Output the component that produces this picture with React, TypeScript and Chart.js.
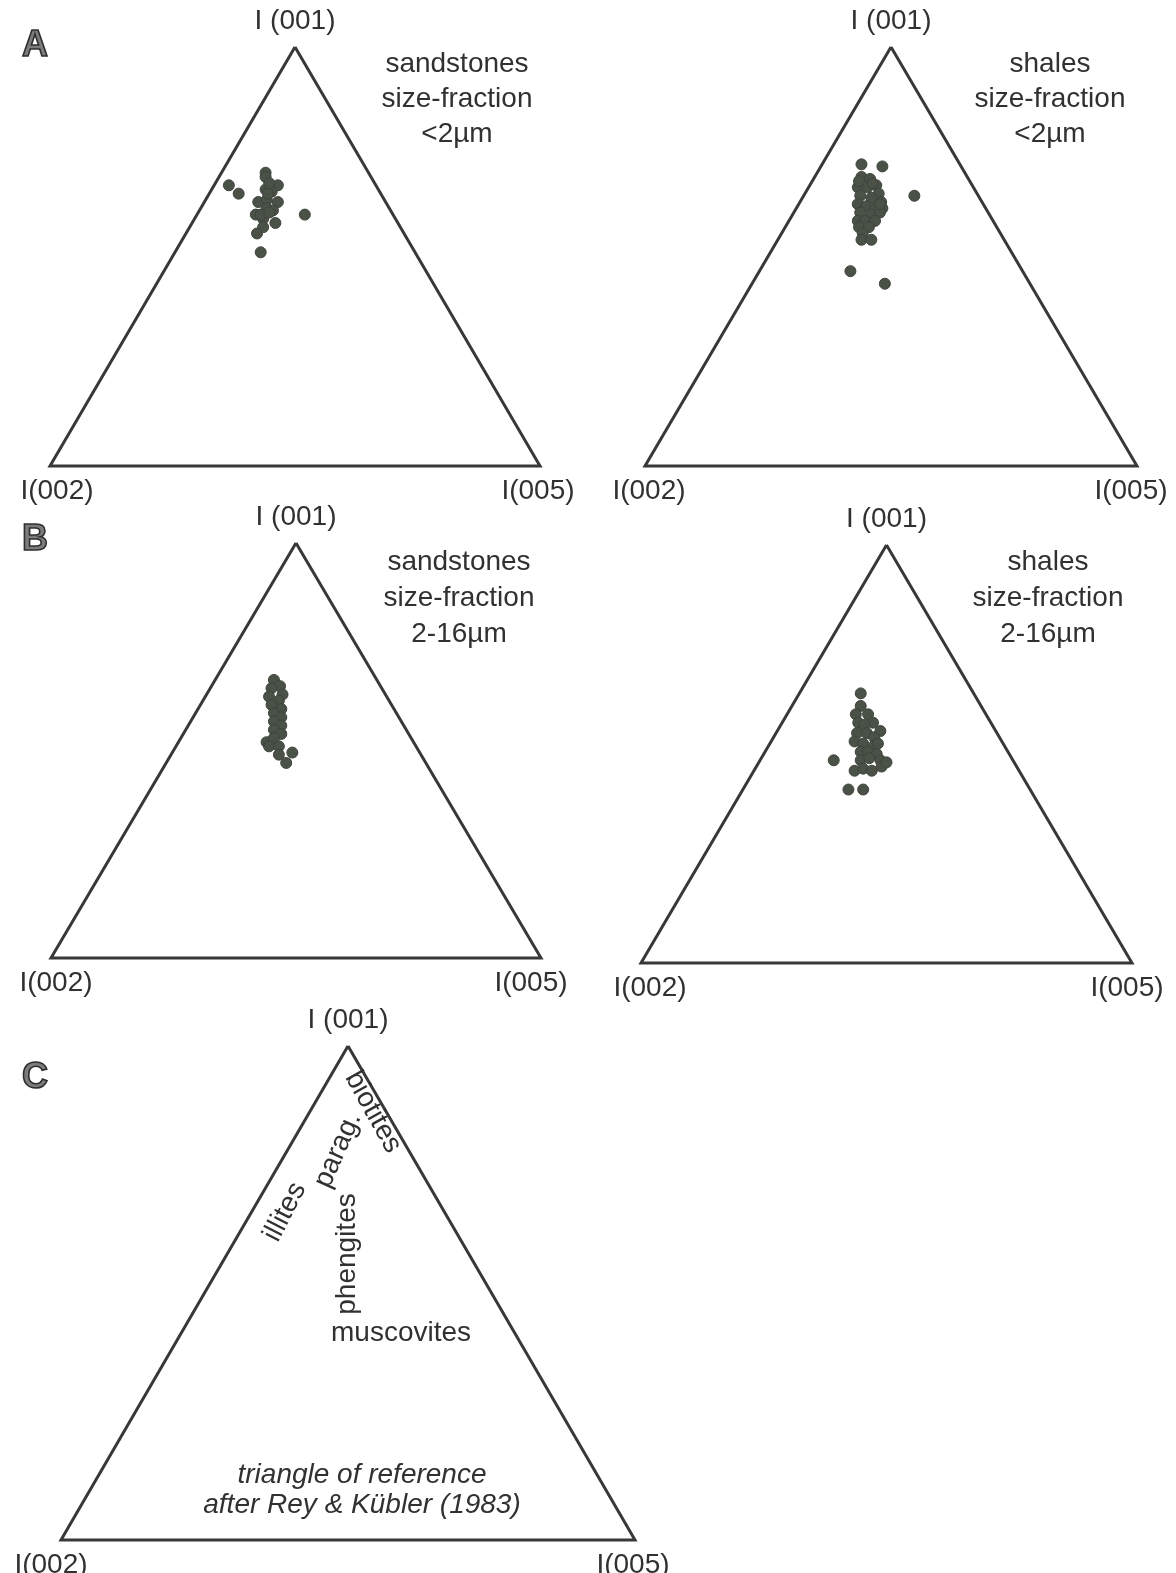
import React, { useEffect, useRef } from "react";
import { Chart, registerables } from "chart.js";

Chart.register(...registerables);

// Each sample is a ternary composition of peak intensities: [I(001), I(002), I(005)] in %.
type Triple = [number, number, number];

const PAGE_W = 1176;
const PAGE_H = 1573;

const vertexTop = "I (001)";
const vertexLeft = "I(002)";
const vertexRight = "I(005)";

// A: sandstones, <2 µm
const sandstonesFine: Triple[] = [
  [67, 30, 3], [65, 29, 6], [70, 21, 9], [69, 21.5, 9.5], [67, 20, 13],
  [66, 23, 11], [65.5, 22, 12.5], [63, 26, 11], [63.5, 24, 12.5], [63, 22, 15],
  [61.5, 25, 13.5], [61, 24, 15], [60, 28, 12], [59, 27, 14], [58, 25, 17],
  [57, 28, 15], [60, 18, 22], [55.5, 30, 14.5], [51, 31.5, 17.5], [65, 23, 12],
  [60, 27, 13], [60.5, 25, 14.5], [67.5, 21.5, 11],
];

// A: shales, <2 µm
const shalesFine: Triple[] = [
  [72, 20, 8], [71.5, 16, 12.5], [64.5, 13, 22.5], [69, 21.5, 9.5], [68.5, 20, 11.5],
  [67, 19.5, 13.5], [66.5, 23.5, 10], [66.5, 21.5, 12], [65, 20, 15], [64.5, 24, 11.5],
  [64, 22, 14], [63, 20.5, 16.5], [62.5, 25.5, 12], [62, 24, 14], [61.5, 22.5, 16],
  [61.5, 21, 17.5], [60.5, 26, 13.5], [60, 24, 16], [60.5, 22, 17.5], [58.5, 27.5, 14],
  [58.5, 26, 15.5], [58.5, 24, 17.5], [57, 28, 15], [57, 26, 17], [55.5, 28, 16.5],
  [68, 22.5, 9.5], [67.5, 20, 12.5], [62.5, 21, 16.5], [54, 29, 17], [54, 27, 19],
  [46.5, 35, 18.5], [43.5, 29.5, 27],
];

// B: sandstones, 2-16 µm
const sandstonesCoarse: Triple[] = [
  [67, 21, 12], [65.5, 20.5, 14], [65, 22.5, 12.5], [63.5, 21, 15.5], [63, 24, 13],
  [62, 22.5, 15.5], [61, 24.5, 14.5], [60, 23, 17], [59, 25, 16], [58, 24, 18],
  [57, 26, 17], [56, 25, 19], [55, 27, 18], [54, 26, 20], [52, 30, 18],
  [53, 28, 19], [51, 30, 19], [51, 28, 21], [49, 29, 22], [49.5, 26, 24.5],
  [47, 28.5, 24.5],
];

// B: shales, 2-16 µm
const shalesCoarse: Triple[] = [
  [64.5, 23, 12.5], [61.5, 24.5, 14], [59.5, 26.5, 14], [59.5, 24, 16.5], [57.5, 24, 18.5],
  [57.5, 27, 15.5], [57, 26, 17], [55.5, 23.5, 21], [55, 28.5, 16.5], [55, 26.5, 18.5],
  [54, 25.5, 20.5], [53, 30, 17], [52.5, 28.5, 19], [52, 26.5, 21.5], [52.5, 25.5, 22],
  [50.5, 30, 19.5], [50.5, 28.5, 21], [50, 27, 23], [48.5, 31, 20.5], [49, 29, 22],
  [48.5, 27, 24.5], [46, 33.5, 20.5], [46.5, 31.5, 22], [46, 30, 24], [47, 27.5, 25.5],
  [48, 26, 26], [48.5, 36.5, 15], [41.5, 37, 21.5], [41.5, 34, 24.5],
];

const titleSandFine = ["sandstones", "size-fraction", "<2µm"];
const titleShaleFine = ["shales", "size-fraction", "<2µm"];
const titleSandCoarse = ["sandstones", "size-fraction", "2-16µm"];
const titleShaleCoarse = ["shales", "size-fraction", "2-16µm"];

const referenceNote = ["triangle of reference", "after Rey & Kübler (1983)"];

// End-members of the ternary frame, closed back to the apex.
const frameVertices: Triple[] = [
  [100, 0, 0],
  [0, 100, 0],
  [0, 0, 100],
  [100, 0, 0],
];

const FONT = '"Liberation Sans", Arial, Helvetica, sans-serif';
const FONT_PX = 28;
const INK = "#303230";
const DOT = "#4a5147";

function toXY(t: Triple) {
  const s = t[0] + t[1] + t[2];
  return { x: (t[2] + t[0] / 2) / s, y: t[0] / s };
}

type Box = { left: number; right: number; top: number; base: number };

type Note = {
  text: string;
  x: number;
  y: number;
  rot?: number;
  italic?: boolean;
};

type PanelSpec = {
  box: Box;
  points: Triple[];
  letter?: { text: string; x: number; y: number };
  notes: Note[];
  leftLabelDx: number;
  rightLabelDx: number;
};

function titleNotes(lines: string[], cx: number, y0: number, gap: number): Note[] {
  return lines.map((text, i) => ({ text, x: cx, y: y0 + i * gap }));
}

const panels: PanelSpec[] = [
  {
    box: { left: 50, right: 540, top: 47, base: 466 },
    points: sandstonesFine,
    letter: { text: "A", x: 22, y: 46 },
    notes: titleNotes(titleSandFine, 457, 64, 35),
    leftLabelDx: 7,
    rightLabelDx: -2,
  },
  {
    box: { left: 645, right: 1137, top: 47, base: 466 },
    points: shalesFine,
    notes: titleNotes(titleShaleFine, 1050, 64, 35),
    leftLabelDx: 4,
    rightLabelDx: -6,
  },
  {
    box: { left: 51, right: 541, top: 543, base: 958 },
    points: sandstonesCoarse,
    letter: { text: "B", x: 22, y: 540 },
    notes: titleNotes(titleSandCoarse, 459, 562, 36),
    leftLabelDx: 5,
    rightLabelDx: -10,
  },
  {
    box: { left: 641, right: 1132, top: 545, base: 963 },
    points: shalesCoarse,
    notes: titleNotes(titleShaleCoarse, 1048, 562, 36),
    leftLabelDx: 9,
    rightLabelDx: -5,
  },
  {
    box: { left: 61, right: 635, top: 1046, base: 1540 },
    points: [],
    letter: { text: "C", x: 22, y: 1078 },
    notes: [
      { text: "biotites", x: 373, y: 1112, rot: 61 },
      { text: "parag.", x: 338, y: 1150, rot: -66 },
      { text: "phengites", x: 347, y: 1254, rot: -90 },
      { text: "illites", x: 285, y: 1212, rot: -63 },
      { text: "muscovites", x: 401, y: 1333 },
      { text: referenceNote[0], x: 362, y: 1475, italic: true },
      { text: referenceNote[1], x: 362, y: 1505, italic: true },
    ],
    leftLabelDx: -10,
    rightLabelDx: -2,
  },
];

function makeLabelPlugin(spec: PanelSpec) {
  return {
    id: "ternaryLabels",
    afterDatasetsDraw(chart: any) {
      const ctx: CanvasRenderingContext2D = chart.ctx;
      const xs = chart.scales.x;
      const ys = chart.scales.y;
      const apex = toXY(frameVertices[0]);
      const left = toXY(frameVertices[1]);
      const right = toXY(frameVertices[2]);
      ctx.save();
      ctx.fillStyle = INK;
      ctx.textAlign = "center";
      ctx.textBaseline = "middle";
      ctx.font = `${FONT_PX}px ${FONT}`;
      ctx.fillText(vertexTop, xs.getPixelForValue(apex.x), ys.getPixelForValue(apex.y) - 26);
      ctx.fillText(
        vertexLeft,
        xs.getPixelForValue(left.x) + spec.leftLabelDx,
        ys.getPixelForValue(left.y) + 25
      );
      ctx.fillText(
        vertexRight,
        xs.getPixelForValue(right.x) + spec.rightLabelDx,
        ys.getPixelForValue(right.y) + 25
      );

      for (const n of spec.notes) {
        ctx.save();
        ctx.translate(n.x, n.y);
        if (n.rot) ctx.rotate((n.rot * Math.PI) / 180);
        ctx.font = `${n.italic ? "italic " : ""}${FONT_PX}px ${FONT}`;
        ctx.fillText(n.text, 0, 0);
        ctx.restore();
      }

      if (spec.letter) {
        ctx.font = `bold 36px ${FONT}`;
        ctx.textAlign = "left";
        ctx.lineWidth = 1.6;
        ctx.strokeStyle = "#2e2e2e";
        ctx.fillStyle = "#7c7c7c";
        ctx.fillText(spec.letter.text, spec.letter.x, spec.letter.y);
        ctx.strokeText(spec.letter.text, spec.letter.x, spec.letter.y);
      }
      ctx.restore();
    },
  };
}

function TernaryPanel({ spec }: { spec: PanelSpec }) {
  const ref = useRef<HTMLCanvasElement | null>(null);

  useEffect(() => {
    const canvas = ref.current;
    if (!canvas) return;
    const { box } = spec;
    const chart = new Chart(canvas, {
      type: "scatter",
      data: {
        datasets: [
          {
            type: "line",
            data: frameVertices.map(toXY),
            borderColor: "#383838",
            borderWidth: 3,
            borderJoinStyle: "miter",
            pointRadius: 0,
            fill: false,
            tension: 0,
            clip: false,
            order: 2,
          } as any,
          {
            type: "scatter",
            data: spec.points.map(toXY),
            backgroundColor: DOT,
            borderColor: "#3e443c",
            borderWidth: 1,
            pointRadius: 5.5,
            clip: false,
            order: 1,
          } as any,
        ],
      },
      options: {
        responsive: false,
        animation: false,
        devicePixelRatio: 1,
        layout: {
          padding: {
            left: box.left,
            right: PAGE_W - box.right,
            top: box.top,
            bottom: PAGE_H - box.base,
          },
        },
        scales: {
          x: { type: "linear", min: 0, max: 1, display: false },
          y: { type: "linear", min: 0, max: 1, display: false },
        },
        plugins: {
          legend: { display: false },
          tooltip: { enabled: false },
        },
      },
      plugins: [makeLabelPlugin(spec)],
    });
    return () => chart.destroy();
  }, [spec]);

  return (
    <canvas
      ref={ref}
      width={PAGE_W}
      height={PAGE_H}
      style={{ position: "absolute", left: 0, top: 0, width: PAGE_W, height: PAGE_H }}
    />
  );
}

export default function App() {
  return (
    <div
      style={{
        position: "absolute",
        left: 0,
        top: 0,
        width: PAGE_W,
        height: PAGE_H,
        overflow: "hidden",
        background: "#ffffff",
      }}
    >
      {panels.map((p, i) => (
        <TernaryPanel key={i} spec={p} />
      ))}
    </div>
  );
}
